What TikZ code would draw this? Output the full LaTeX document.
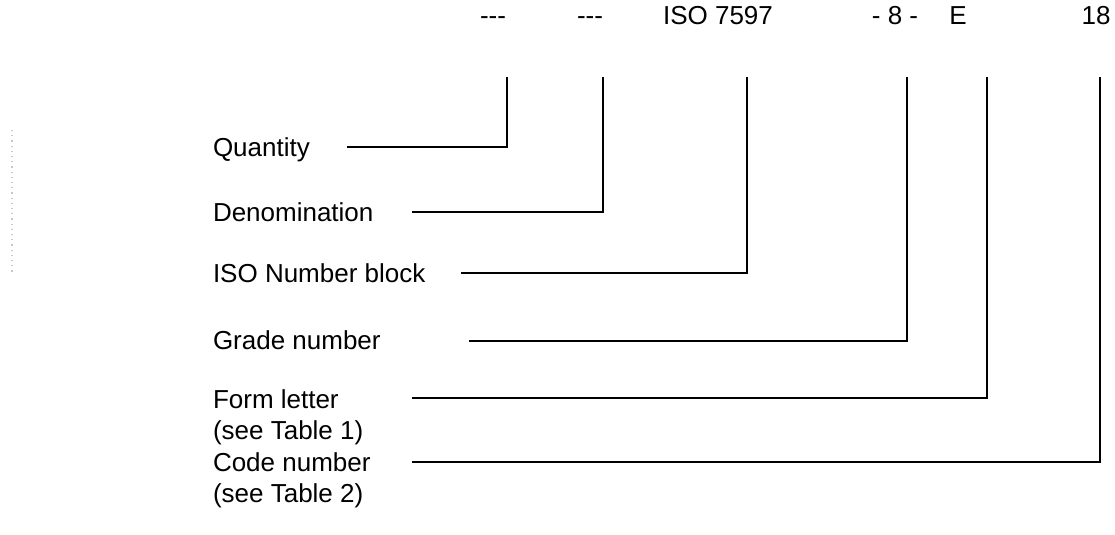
\documentclass[tikz,border=0pt]{standalone}
\usepackage{fontspec}
\setmainfont{Liberation Sans}
\begin{document}
\begin{tikzpicture}[x=0.5pt,y=-0.5pt,
  lbl/.style={inner sep=0pt, outer sep=0pt, font=\fontsize{13}{15.5}\selectfont, anchor=base west, align=left},
  toplbl/.style={inner sep=0pt, outer sep=0pt, font=\fontsize{13}{15.5}\selectfont, anchor=base},
  conn/.style={draw=black, line width=1pt}]
\useasboundingbox (0,0) rectangle (1115,535);
\draw[gray!45, dotted, line width=0.6pt] (12,130) -- (12,275);
% top labels
\node[toplbl] (t1) at (493,25) {-{}-{}-};
\node[toplbl] (t2) at (590,25) {-{}-{}-};
\node[toplbl] (t3) at (718,25) {ISO 7597};
\node[toplbl] (t4) at (895,25) {- 8 -};
\node[toplbl] (t5) at (958,25) {E};
\node[toplbl] (t6) at (1096,25) {18};
% left labels
\node[lbl] (l1) at (213,156) {Quantity};
\node[lbl] (l2) at (213,221) {Denomination};
\node[lbl] (l3) at (213,282) {ISO Number block};
\node[lbl] (l4) at (213,350) {Grade number};
\node[lbl, anchor=north west] (l5) at (213,390) {Form letter\\(see Table 1)};
\node[lbl, anchor=north west] (l6) at (213,453) {Code number\\(see Table 2)};
% connector coordinates
\coordinate (s1) at (347,147);  \coordinate (e1) at (507,77);
\coordinate (s2) at (412,212);  \coordinate (e2) at (603,77);
\coordinate (s3) at (461,273);  \coordinate (e3) at (747,77);
\coordinate (s4) at (469,341);  \coordinate (e4) at (907,77);
\coordinate (s5) at (412,398);  \coordinate (e5) at (987,77);
\coordinate (s6) at (412,462);  \coordinate (e6) at (1100,77);
\draw[conn] (s1) -| (e1);
\draw[conn] (s2) -| (e2);
\draw[conn] (s3) -| (e3);
\draw[conn] (s4) -| (e4);
\draw[conn] (s5) -| (e5);
\draw[conn] (s6) -| (e6);
\end{tikzpicture}
\end{document}
